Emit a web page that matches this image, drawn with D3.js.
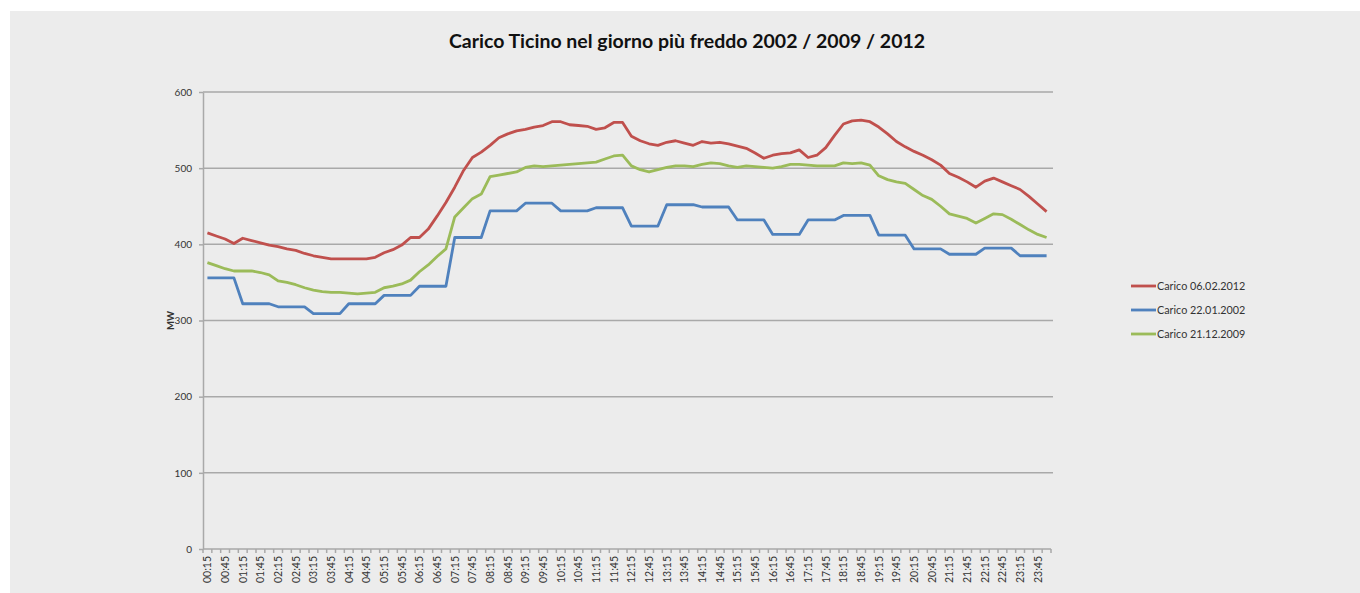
<!doctype html>
<html>
<head>
    <style>
        body { margin: 0; background: #fff; }
        svg { display: block; }
        .grid line { stroke: #a9a9a9; stroke-width: 1.5; }
        .axis path, .axis line { stroke: #a9a9a9; stroke-width: 1.5; }
        .axis text { fill: #333; font-family: Lato, "Liberation Sans", sans-serif; font-size: 10.5px; }
        .yaxis text { font-size: 10px; }
        .serie { fill: none; stroke-width: 2.8; stroke-linejoin: round; }
    </style>
    <script src="https://d3js.org/d3.v7.min.js"></script>
</head>
<body>
<svg width="1360" height="593"></svg>
<script>
// quarter-hour labels (00:15 ... 24:00)
var ore = ["00:15","00:30","00:45","01:00","01:15","01:30","01:45","02:00",
    "02:15","02:30","02:45","03:00","03:15","03:30","03:45","04:00",
    "04:15","04:30","04:45","05:00","05:15","05:30","05:45","06:00",
    "06:15","06:30","06:45","07:00","07:15","07:30","07:45","08:00",
    "08:15","08:30","08:45","09:00","09:15","09:30","09:45","10:00",
    "10:15","10:30","10:45","11:00","11:15","11:30","11:45","12:00",
    "12:15","12:30","12:45","13:00","13:15","13:30","13:45","14:00",
    "14:15","14:30","14:45","15:00","15:15","15:30","15:45","16:00",
    "16:15","16:30","16:45","17:00","17:15","17:30","17:45","18:00",
    "18:15","18:30","18:45","19:00","19:15","19:30","19:45","20:00",
    "20:15","20:30","20:45","21:00","21:15","21:30","21:45","22:00",
    "22:15","22:30","22:45","23:00","23:15","23:30","23:45","24:00"];

var carico2012 = [415,411,407,401,408,405,402,399,397,394,392,388,385,383,381,381,
    381,381,381,383,389,393,399,409,409,420,437,455,475,497,514,521,
    530,540,545,549,551,554,556,561,561,557,556,555,551,553,560,560,
    542,536,532,530,534,536,533,530,535,533,534,532,529,526,520,513,
    517,519,520,524,514,517,527,543,558,562,563,561,554,545,535,528,
    522,517,511,504,493,488,482,475,483,487,482,477,472,463,453,443];

var carico2002 = [356,356,356,356,322,322,322,322,318,318,318,318,309,309,309,309,
    322,322,322,322,333,333,333,333,345,345,345,345,409,409,409,409,
    444,444,444,444,454,454,454,454,444,444,444,444,448,448,448,448,
    424,424,424,424,452,452,452,452,449,449,449,449,432,432,432,432,
    413,413,413,413,432,432,432,432,438,438,438,438,412,412,412,412,
    394,394,394,394,387,387,387,387,395,395,395,395,385,385,385,385];

var carico2009 = [376,372,368,365,365,365,363,360,352,350,347,343,340,338,337,337,
    336,335,336,337,343,345,348,353,364,373,384,394,436,448,460,466,
    489,491,493,495,501,503,502,503,504,505,506,507,508,512,516,517,
    503,498,495,498,501,503,503,502,505,507,506,503,501,503,502,501,
    500,502,505,505,504,503,503,503,507,506,507,504,490,485,482,480,
    472,464,459,450,440,437,434,428,434,440,439,433,426,419,413,409];

var yTicks = [0, 100, 200, 300, 400, 500, 600];

var serie = [
    { nome: "Carico 06.02.2012", valori: carico2012, colore: "#c0504d" },
    { nome: "Carico 22.01.2002", valori: carico2002, colore: "#4f81bd" },
    { nome: "Carico 21.12.2009", valori: carico2009, colore: "#9bbb59" }
];

var svg = d3.select("svg");

// gray backdrop like the slide
svg.append("rect")
    .attr("x", 10).attr("y", 11)
    .attr("width", 1350).attr("height", 582)
    .attr("fill", "#ececec");

var pLeft = 203, pTop = 92, pRight = 1051, pBottom = 549;

var x = d3.scaleBand().domain(ore).range([pLeft, pRight]).padding(0),
    y = d3.scaleLinear().domain([0, 600]).range([pBottom, pTop]);

// horizontal gridlines
svg.append("g").attr("class", "grid")
    .selectAll("line")
    .data(yTicks.filter(function(d) { return d > 0; }))
    .enter().append("line")
    .attr("x1", pLeft).attr("x2", pRight + 2)
    .attr("y1", function(d) { return y(d); })
    .attr("y2", function(d) { return y(d); });

// y axis
svg.append("g").attr("class", "axis yaxis")
    .attr("transform", "translate(" + pLeft + ",0)")
    .call(d3.axisLeft(y).tickValues(yTicks).tickSize(4).tickSizeOuter(0).tickPadding(7));

svg.append("text")
    .attr("transform", "translate(174," + ((pTop + pBottom) / 2) + ") rotate(-90)")
    .attr("text-anchor", "middle")
    .attr("font-family", "Lato, sans-serif")
    .attr("font-size", 9.5)
    .attr("font-weight", "bold")
    .attr("fill", "#333")
    .text("MW");

// x axis: line, boundary ticks and rotated labels every half hour
var xa = svg.append("g").attr("class", "axis");
xa.append("line")
    .attr("x1", pLeft).attr("x2", pRight)
    .attr("y1", pBottom).attr("y2", pBottom);
xa.selectAll(".tk")
    .data(ore.concat(["fine"]))
    .enter().append("line")
    .attr("class", "tk")
    .attr("x1", function(d, i) { return pLeft + i * x.bandwidth(); })
    .attr("x2", function(d, i) { return pLeft + i * x.bandwidth(); })
    .attr("y1", pBottom).attr("y2", pBottom + 4);
xa.selectAll("text")
    .data(ore.filter(function(d, i) { return i % 2 === 0; }))
    .enter().append("text")
    .attr("transform", function(d) {
        return "translate(" + (x(d) + x.bandwidth() / 2 + 4) + "," + (pBottom + 7) + ") rotate(-90)";
    })
    .attr("text-anchor", "end")
    .text(function(d) { return d; });

// lines
var line = d3.line()
    .x(function(d, i) { return x(ore[i]) + x.bandwidth() / 2; })
    .y(function(d) { return y(d); });

svg.selectAll(".serie")
    .data(serie)
    .enter().append("path")
    .attr("class", "serie")
    .attr("stroke", function(d) { return d.colore; })
    .attr("d", function(d) { return line(d.valori); });

// legend
var leg = svg.selectAll(".leg")
    .data(serie)
    .enter().append("g")
    .attr("class", "leg")
    .attr("transform", function(d, i) { return "translate(1131," + (286 + i * 24) + ")"; });
leg.append("line")
    .attr("x1", 0).attr("x2", 25)
    .attr("stroke", function(d) { return d.colore; })
    .attr("stroke-width", 2.8);
leg.append("text")
    .attr("x", 26).attr("dy", "0.35em")
    .attr("font-family", "Lato, sans-serif")
    .attr("font-size", 10.8)
    .attr("fill", "#333")
    .text(function(d) { return d.nome; });

// title
svg.append("text")
    .attr("x", 687).attr("y", 48)
    .attr("text-anchor", "middle")
    .attr("font-family", "Lato, sans-serif")
    .attr("font-weight", "bold")
    .attr("font-size", 19.5)
    .attr("fill", "#111")
    .text("Carico Ticino nel giorno più freddo 2002 / 2009 / 2012");
</script>
</body>
</html>
